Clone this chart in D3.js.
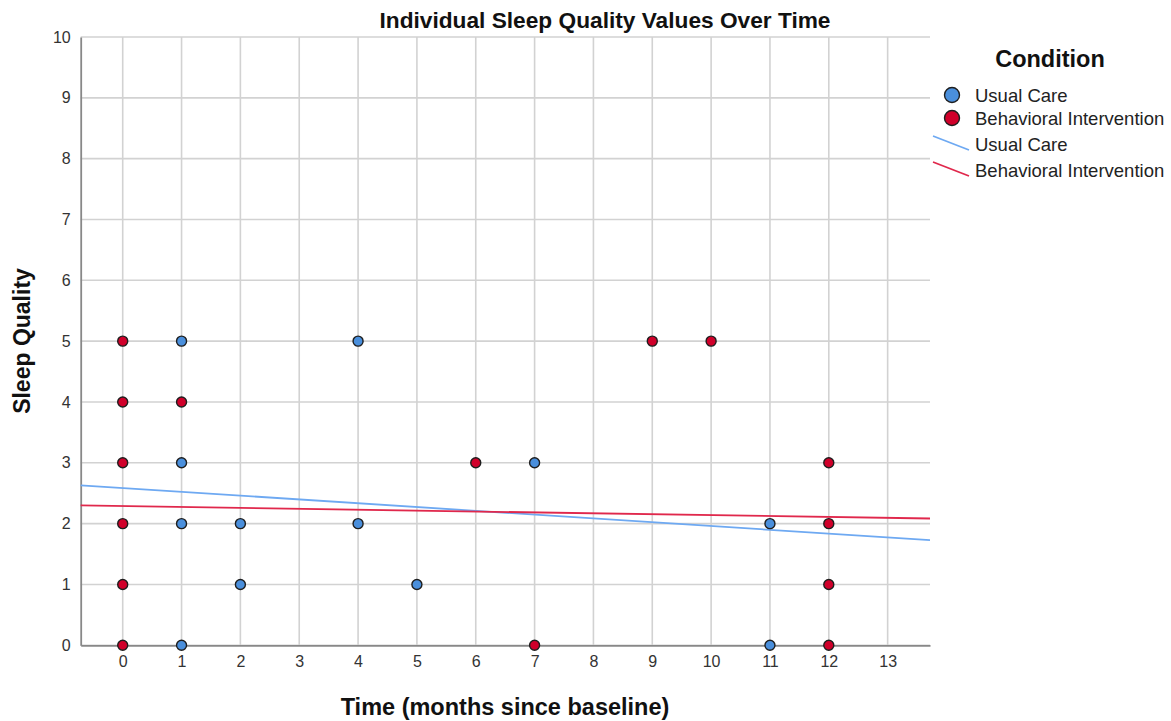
<!DOCTYPE html>
<html>
<head>
<meta charset="utf-8">
<script src="https://cdn.jsdelivr.net/npm/d3@7"></script>
<style>
  html, body { margin: 0; padding: 0; background: #fff; }
  svg { display: block; font-family: "Liberation Sans", Arial, sans-serif; }
</style>
</head>
<body>
<svg id="chart" width="1171" height="721"></svg>
<script>
// ---- data ----
const seriesNames = ["Usual Care", "Behavioral Intervention"];
const usualCareTime    = [1, 1, 1, 1, 2, 2, 4, 4, 5, 7, 11, 11];
const usualCareQuality = [5, 3, 2, 0, 2, 1, 5, 2, 1, 3, 2, 0];
const interventionTime    = [0, 0, 0, 0, 0, 0, 1, 6, 7, 9, 10, 12, 12, 12, 12];
const interventionQuality = [5, 4, 3, 2, 1, 0, 4, 3, 0, 5, 5, 3, 2, 1, 0];
const fitIntercepts = [2.585, 2.289];
const fitSlopes = [-0.0624, -0.0149];
const xTicks = [0, 1, 2, 3, 4, 5, 6, 7, 8, 9, 10, 11, 12, 13];
const yTicks = [0, 1, 2, 3, 4, 5, 6, 7, 8, 9, 10];

// ---- style ----
const pointColors = ["#4a8fdc", "#d0002a"];
const lineColors = ["#6ea9f2", "#e0284c"];

const svg = d3.select("#chart");
const pLeft = 80.7, pRight = 930, pTop = 37, pBottom = 645.3;
const x = d3.scaleLinear().domain([-0.714, 13.72]).range([pLeft, pRight]);
const y = d3.scaleLinear().domain([0, 10]).range([pBottom, pTop]);

// gridlines
const grid = svg.append("g");
grid.selectAll("line.gx").data(xTicks).join("line").attr("class", "gx")
  .attr("x1", d => x(d)).attr("x2", d => x(d))
  .attr("y1", pTop).attr("y2", pBottom)
  .attr("stroke", "#d2d2d2").attr("stroke-width", 1.6);
grid.selectAll("line.gy").data(yTicks).join("line").attr("class", "gy")
  .attr("x1", pLeft).attr("x2", pRight)
  .attr("y1", d => y(d)).attr("y2", d => y(d))
  .attr("stroke", "#d2d2d2").attr("stroke-width", 1.6);

// axes
const xAxis = svg.append("g").attr("transform", `translate(0,${pBottom})`)
  .call(d3.axisBottom(x).tickValues(xTicks).tickSize(0).tickPadding(10));
const yAxis = svg.append("g").attr("transform", `translate(${pLeft},0)`)
  .call(d3.axisLeft(y).tickValues(yTicks).tickSize(0).tickPadding(10));
[xAxis, yAxis].forEach(a => {
  a.attr("font-size", 16).attr("font-family", "Liberation Sans, Arial, sans-serif");
  a.select(".domain").attr("stroke", "#888").attr("stroke-width", 1.8);
  a.selectAll("text").attr("fill", "#333");
});

// fit lines
const xd = x.domain();
const fits = seriesNames.map((n, i) => ({
  i, pts: xd.map(t => [t, fitIntercepts[i] + fitSlopes[i] * t])
}));
const lineGen = d3.line().x(d => x(d[0])).y(d => y(d[1]));
svg.append("g").selectAll("path").data(fits).join("path")
  .attr("d", d => lineGen(d.pts))
  .attr("fill", "none").attr("stroke", d => lineColors[d.i]).attr("stroke-width", 1.8);

// points
const pointData = [
  ...usualCareTime.map((t, k) => ({ t, q: usualCareQuality[k], s: 0 })),
  ...interventionTime.map((t, k) => ({ t, q: interventionQuality[k], s: 1 }))
];
svg.append("g").selectAll("circle").data(pointData).join("circle")
  .attr("cx", d => x(d.t)).attr("cy", d => y(d.q)).attr("r", 5)
  .attr("fill", d => pointColors[d.s]).attr("stroke", "#1e1e1e").attr("stroke-width", 1.4);

// titles
svg.append("text").attr("x", 605).attr("y", 28).attr("text-anchor", "middle")
  .attr("font-size", 22.7).attr("font-weight", "bold").attr("fill", "#111")
  .text("Individual Sleep Quality Values Over Time");
svg.append("text").attr("x", 505).attr("y", 715).attr("text-anchor", "middle")
  .attr("font-size", 23.5).attr("font-weight", "bold").attr("fill", "#111")
  .text("Time (months since baseline)");
svg.append("text").attr("transform", "translate(30,341) rotate(-90)").attr("text-anchor", "middle")
  .attr("font-size", 23).attr("font-weight", "bold").attr("fill", "#111")
  .text("Sleep Quality");

// legend
const lg = svg.append("g");
lg.append("text").attr("x", 1050).attr("y", 67).attr("text-anchor", "middle")
  .attr("font-size", 23.5).attr("font-weight", "bold").attr("fill", "#111").text("Condition");
const legendY = [95, 118, 144, 170];
seriesNames.forEach((n, i) => {
  lg.append("circle").attr("cx", 952).attr("cy", legendY[i]).attr("r", 7.5)
    .attr("fill", pointColors[i]).attr("stroke", "#1e1e1e").attr("stroke-width", 1.4);
  lg.append("text").attr("x", 975).attr("y", legendY[i] + 7).attr("font-size", 18.5)
    .attr("fill", "#222").text(n);
});
seriesNames.forEach((n, i) => {
  const yy = legendY[i + 2];
  lg.append("line").attr("x1", 933).attr("y1", yy - 8).attr("x2", 969).attr("y2", yy + 6)
    .attr("stroke", lineColors[i]).attr("stroke-width", 1.8);
  lg.append("text").attr("x", 975).attr("y", yy + 7).attr("font-size", 18.5)
    .attr("fill", "#222").text(n);
});
</script>
</body>
</html>
